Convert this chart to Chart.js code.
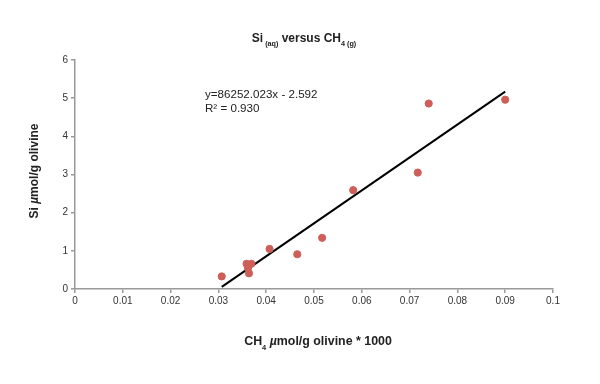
<!DOCTYPE html>
<html>
<head>
<meta charset="utf-8">
<script src="https://cdn.jsdelivr.net/npm/chart.js@4/dist/chart.umd.min.js"></script>
<style>
  body { margin: 0; background: #fff; }
  #wrap { width: 600px; height: 384px; }
</style>
</head>
<body>
<div id="wrap"><canvas id="grafico" width="600" height="384"></canvas></div>
<script>
// CH4 (µmol/g olivine * 1000) vs Si (µmol/g olivine)
const ch4 = [0.0307, 0.0359, 0.0369, 0.0364, 0.0362, 0.0407, 0.0465, 0.0517, 0.0582, 0.0717, 0.0740, 0.0900];
const si  = [0.33,   0.66,   0.66,   0.41,   0.55,   1.05,   0.91,   1.34,   2.59,   3.05,   4.86,   4.96];

// linear fit shown on chart (axis units)
const slope = 86.252023;
const intercept = -2.592;
const eqLines = ["y=86252.023x - 2.592", "R² = 0.930"];

const xTicks = [0, 0.1, 0.01];   // min, max, step
const yTicks = [0, 6, 1];

const puntos = ch4.map((x, i) => ({ x: x, y: si[i] }));
const xMin = Math.min(...ch4), xMax = Math.max(...ch4);
const tendencia = [xMin, xMax].map(x => ({ x: x, y: slope * x + intercept }));

const FONT = "'Liberation Sans', Arial, Helvetica, sans-serif";

// draw text made of pieces, some as subscripts
function drawPieces(ctx, pieces, cx, cy, size, rotate) {
    ctx.save();
    ctx.translate(cx, cy);
    if (rotate) ctx.rotate(-Math.PI / 2);
    let total = 0;
    pieces.forEach(p => {
        const s = p.sub ? size * 0.6 : size;
        ctx.font = (p.italic ? "italic " : "") + "bold " + s + "px " + FONT;
        p.w = ctx.measureText(p.t).width;
        total += p.w;
    });
    let x = -total / 2;
    ctx.fillStyle = "#222";
    ctx.textBaseline = "alphabetic";
    ctx.textAlign = "left";
    pieces.forEach(p => {
        const s = p.sub ? size * 0.6 : size;
        ctx.font = (p.italic ? "italic " : "") + "bold " + s + "px " + FONT;
        ctx.fillText(p.t, x, p.sub ? size * 0.7 : size * 0.36);
        x += p.w;
    });
    ctx.restore();
}

const textos = {
    id: "textos",
    afterDraw(chart) {
        const ctx = chart.ctx;
        drawPieces(ctx, [{ t: "Si" }, { t: " (aq)", sub: true }, { t: " versus CH" }, { t: "4 (g)", sub: true }],
            304, 38, 12);
        drawPieces(ctx, [{ t: "Si " }, { t: "µ", italic: true }, { t: "mol/g olivine" }],
            34, 171, 12, true);
        drawPieces(ctx, [{ t: "CH" }, { t: "4", sub: true }, { t: " " }, { t: "µ", italic: true }, { t: "mol/g olivine * 1000" }],
            318, 341, 12.4);

        ctx.save();
        ctx.font = "11.6px " + FONT;
        ctx.fillStyle = "#222";
        ctx.textBaseline = "middle";
        ctx.fillText(eqLines[0], 205, 95);
        ctx.fillText(eqLines[1], 205, 109);
        ctx.restore();
    }
};

new Chart(document.getElementById("grafico"), {
    type: "scatter",
    data: {
        datasets: [
            {
                label: "tendencia",
                data: tendencia,
                type: "line",
                borderColor: "#000",
                borderWidth: 2,
                pointRadius: 0,
                fill: false,
                order: 1
            },
            {
                label: "Si",
                data: puntos,
                backgroundColor: "#cd5f58",
                borderColor: "#cd5f58",
                pointRadius: 3.6,
                order: 0
            }
        ]
    },
    options: {
        responsive: false,
        animation: false,
        layout: { padding: { left: 0, right: 47, top: 60, bottom: 0 } },
        plugins: {
            legend: { display: false },
            tooltip: { enabled: false }
        },
        scales: {
            x: {
                type: "linear",
                min: xTicks[0],
                max: xTicks[1],
                afterFit(scale) { scale.height = 95; },
                ticks: {
                    stepSize: xTicks[2],
                    padding: 2,
                    color: "#333",
                    font: { family: FONT, size: 10 },
                    maxRotation: 0,
                    callback: v => String(Number(v.toFixed(2)))
                },
                grid: { drawOnChartArea: false, tickLength: 4, color: "#999", lineWidth: 1.5 },
                border: { color: "#999", width: 1.5 }
            },
            y: {
                min: yTicks[0],
                max: yTicks[1],
                afterFit(scale) { scale.width = 75; },
                ticks: {
                    stepSize: yTicks[2],
                    padding: 3,
                    color: "#333",
                    font: { family: FONT, size: 10 }
                },
                grid: { drawOnChartArea: false, tickLength: 4, color: "#999", lineWidth: 1.5 },
                border: { color: "#999", width: 1.5 }
            }
        }
    },
    plugins: [textos]
});
</script>
</body>
</html>
